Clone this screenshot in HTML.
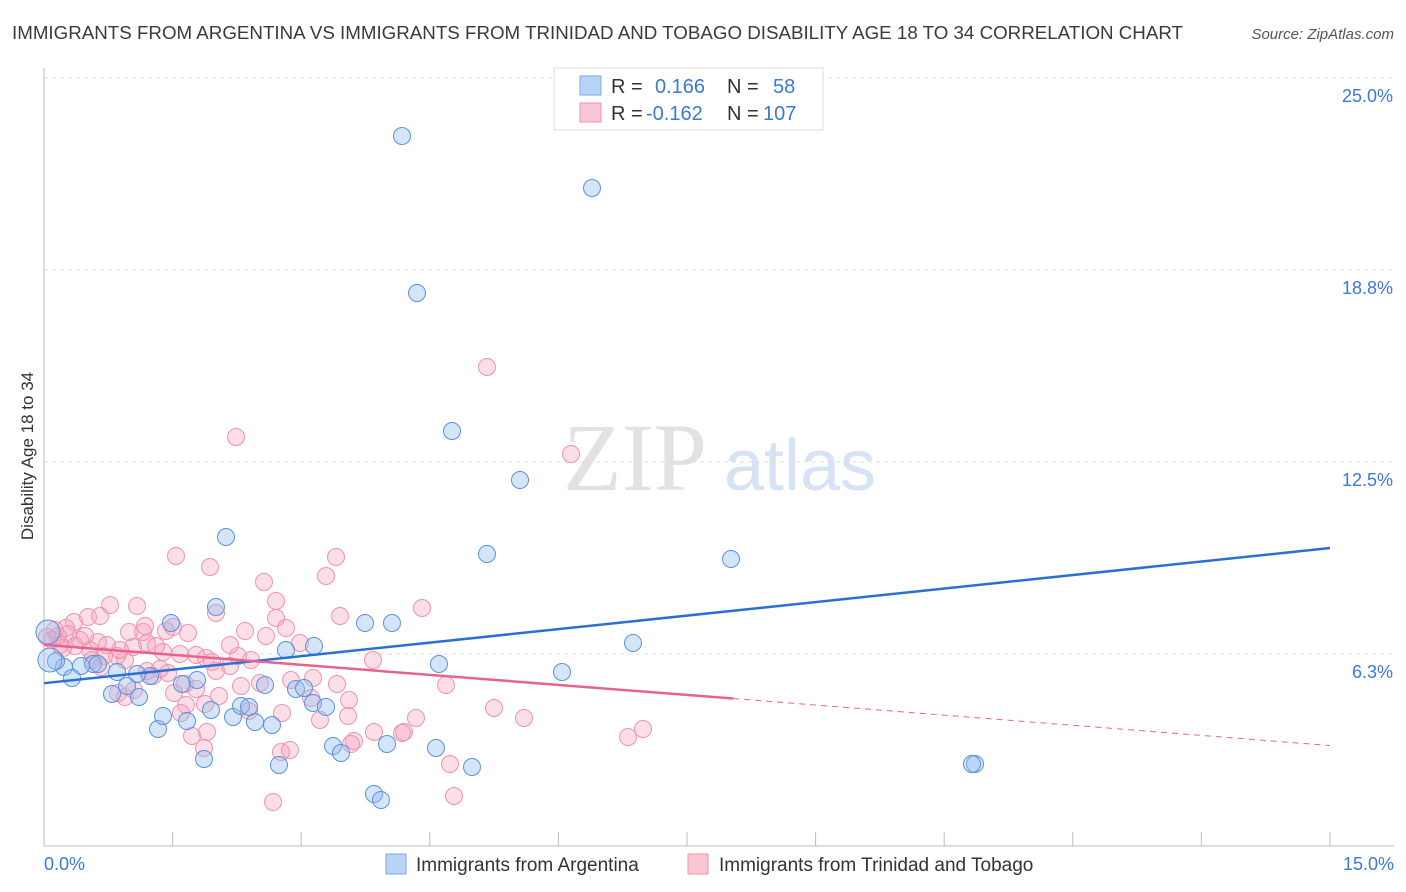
<!DOCTYPE html>
<html><head><meta charset="utf-8"><style>
body{margin:0;background:#fff;font-family:"Liberation Sans",sans-serif;}
#wrap{position:relative;width:1406px;height:892px;overflow:hidden}
</style></head><body>
<div id="wrap">
<svg id="svg" width="1406" height="892" xmlns="http://www.w3.org/2000/svg">
<text x="12" y="39" font-size="18" fill="#3a3a3a" textLength="1171" lengthAdjust="spacingAndGlyphs">IMMIGRANTS FROM ARGENTINA VS IMMIGRANTS FROM TRINIDAD AND TOBAGO DISABILITY AGE 18 TO 34 CORRELATION CHART</text>
<text x="1394" y="39" font-size="15" fill="#555" font-style="italic" text-anchor="end">Source: ZipAtlas.com</text>
<text x="33" y="456" font-size="17" fill="#333" text-anchor="middle" transform="rotate(-90 33 456)">Disability Age 18 to 34</text>
<g><text x="635" y="490" font-size="96" fill="#e2e2e2" font-family="Liberation Serif,serif" text-anchor="middle">ZIP</text><text x="800" y="490" font-size="72" fill="#d6e3f5" text-anchor="middle">atlas</text></g>
<g id="grid"></g><g id="axes"></g><g id="pts"></g><g id="lines"></g>
<g>
<rect x="554" y="68" width="269" height="62" fill="#fff" stroke="#ddd"/>
<rect x="580" y="76" width="21" height="19" fill="#b9d3f5" stroke="#7aa8e6"/>
<text x="611" y="93" font-size="20" fill="#333">R =</text><text x="655" y="93" font-size="20" fill="#3b78d8">0.166</text>
<text x="727" y="93" font-size="20" fill="#333">N =</text><text x="773" y="93" font-size="20" fill="#3b78d8">58</text>
<rect x="580" y="103" width="21" height="19" fill="#f9c6d4" stroke="#ee93ae"/>
<text x="611" y="120" font-size="20" fill="#333">R =</text><text x="646" y="120" font-size="20" fill="#3b78d8">-0.162</text>
<text x="727" y="120" font-size="20" fill="#333">N =</text><text x="763" y="120" font-size="20" fill="#3b78d8">107</text>
</g>
<g>
<rect x="386" y="854" width="20" height="20" fill="#b9d3f5" stroke="#7aa8e6"/>
<text x="416" y="871" font-size="19" fill="#333">Immigrants from Argentina</text>
<rect x="688" y="854" width="20" height="20" fill="#f9c6d4" stroke="#ee93ae"/>
<text x="719" y="871" font-size="19" fill="#333">Immigrants from Trinidad and Tobago</text>
</g>
</svg></div>
<script>
const yTicks=[6.3,12.5,18.8,25.0];
const yTickVals=[6.25,12.5,18.75,25];
const xTickLabels=["0.0%","15.0%"];
const blue=[[402,136],[592,188],[417,293],[452,431],[520,480],[487,554],[731,559],[226,537],[216,607],[171,623],[365,623],[392,623],[314,646],[286,650],[633,643],[439,664],[562,672],[975,764],[972,764],[472,767],[436,748],[387,744],[333,746],[341,753],[374,794],[381,800],[279,765],[204,759],[158,729],[163,716],[187,721],[211,710],[233,717],[255,722],[272,725],[241,706],[249,707],[313,703],[326,707],[296,689],[304,688],[265,685],[197,680],[182,684],[150,676],[137,674],[112,694],[139,697],[127,686],[117,672],[93,664],[81,666],[98,664],[64,667],[72,678],[56,661],[48,632],[50,660]].map(p=>[(p[0]-44)*15/1286,(846-p[1])/30.72]);
const pink=[[487,367],[236,437],[571,454],[176,556],[210,567],[336,557],[326,576],[264,582],[216,613],[340,616],[422,608],[110,605],[137,606],[88,617],[74,622],[100,616],[276,618],[286,628],[245,631],[188,633],[266,636],[173,627],[143,632],[129,632],[68,634],[58,636],[52,640],[80,640],[98,642],[107,645],[147,643],[156,646],[163,652],[180,654],[206,658],[238,656],[251,660],[212,662],[125,660],[117,656],[104,656],[90,650],[75,646],[63,648],[147,671],[153,676],[168,673],[185,684],[216,671],[241,686],[196,689],[174,693],[186,705],[219,696],[260,683],[291,680],[313,678],[337,684],[349,700],[373,660],[446,685],[494,708],[524,718],[348,716],[320,720],[282,713],[249,711],[205,704],[181,713],[192,736],[204,748],[207,732],[281,752],[290,750],[354,741],[351,744],[374,732],[404,732],[416,718],[402,733],[450,764],[454,796],[273,802],[628,737],[643,729],[118,693],[125,697],[134,690],[101,667],[92,660],[60,645],[55,630],[47,637],[66,628],[85,636],[160,669],[230,666],[196,655],[133,647],[145,626],[230,645],[120,650],[166,631],[276,601],[300,643],[311,698]].map(p=>[(p[0]-44)*15/1286,(846-p[1])/30.72]);
const blueTrend=[[0,5.3],[15,9.7]];
const pinkTrend=[[0,6.55],[8.04,4.8],[15,3.27]];
const X=v=>44+v/15*1286, Y=v=>846-v*30.72;
const NS="http://www.w3.org/2000/svg";
function mk(tag,attrs,parent){const e=document.createElementNS(NS,tag);for(const k in attrs)e.setAttribute(k,attrs[k]);document.getElementById(parent).appendChild(e);return e;}
yTickVals.forEach((v,i)=>{
 const g=mk('line',{x1:44,x2:1394,y1:Y(v),y2:Y(v),stroke:'#ddd','stroke-dasharray':'4,4'},'grid');
 
 
 const t=mk('text',{x:1393,y:Y(v)+24,'font-size':18,fill:'#3b78d8','text-anchor':'end'},'axes');
 t.textContent=yTicks[i].toFixed(1)+'%';
 
 
});
mk('line',{x1:44,x2:44,y1:68,y2:846,stroke:'#bbb'},'axes');
mk('line',{x1:44,x2:1394,y1:846,y2:846,stroke:'#bbb'},'axes');
for(let i=0;i<=10;i++){mk('line',{x1:X(i*1.5),x2:X(i*1.5),y1:832,y2:846,stroke:'#bbb'},'axes');}
[[0,44,'start'],[1,1394,'end']].forEach(([i,x,a])=>{const t=mk('text',{x:x,y:870,'font-size':18,fill:'#3b78d8','text-anchor':a},'axes');t.textContent=xTickLabels[i];
 
 });
pink.forEach(p=>{const c=mk('circle',{cx:X(p[0]),cy:Y(p[1]),r:8.5,fill:'rgba(246,160,186,0.35)',stroke:'#ef93ae','stroke-width':1},'pts');
 
 });
blue.forEach((p,i)=>{const c=mk('circle',{cx:X(p[0]),cy:Y(p[1]),r:(i>=56?12:8.5),fill:'rgba(150,190,240,0.4)',stroke:'#5a92dc','stroke-width':1},'pts');
 
 });
let l=mk('line',{x1:X(blueTrend[0][0]),y1:Y(blueTrend[0][1]),x2:X(blueTrend[1][0]),y2:Y(blueTrend[1][1]),stroke:'#2a6fd6','stroke-width':2.5},'lines');


l=mk('line',{x1:X(pinkTrend[0][0]),y1:Y(pinkTrend[0][1]),x2:X(pinkTrend[1][0]),y2:Y(pinkTrend[1][1]),stroke:'#e8638c','stroke-width':2.5},'lines');


l=mk('line',{x1:X(pinkTrend[1][0]),y1:Y(pinkTrend[1][1]),x2:X(pinkTrend[2][0]),y2:Y(pinkTrend[2][1]),stroke:'#e8638c','stroke-width':1,'stroke-dasharray':'6,5'},'lines');


</script>
</body></html>
